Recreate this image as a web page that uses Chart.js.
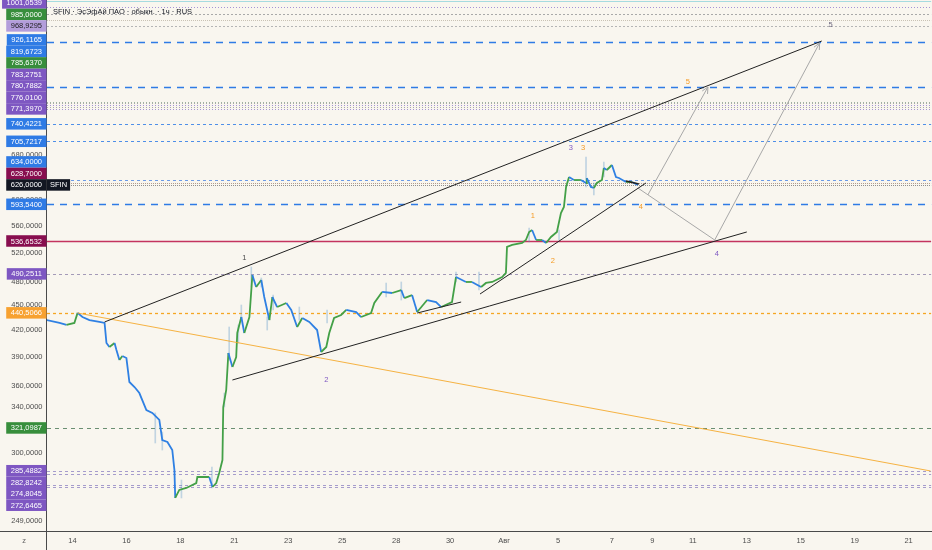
<!DOCTYPE html>
<html><head><meta charset="utf-8">
<script src="https://cdn.jsdelivr.net/npm/chart.js@4.4.1/dist/chart.umd.min.js"></script>
<style>html,body{margin:0;padding:0;background:#f9f6ef;}canvas{display:block;}</style>
</head><body>
<canvas id="c" width="932" height="550"></canvas>
<script>
const chartTitle = 'SFIN · ЭсЭфАй ПАО · обыкн. · 1ч · RUS';
const dayTickPos = [0,2,4,6,8,10,12,14,16,18,20,21.5,23,25,27,29,31];
const dayTickLabels = ['14','16','18','21','23','25','28','30','Авг','5','7','9','11','13','15','19','21'];
const priceTicks = [249,300,340,360,390,420,450,480,520,560,600,680];

// [trading-day position, close]
const priceBars = [
[-0.96,431.9],[-0.48,428.4],[-0.22,426.1],[0.07,428.4],[0.19,440.5],[0.37,435.5],[0.63,431.9],[1.0,429.6],[1.19,428.4],
[1.26,405.5],[1.37,401.1],[1.56,405.5],[1.63,397.8],[1.74,387.0],[1.85,391.3],[2.0,389.1],[2.11,364.3],[2.30,359.3],
[2.48,353.4],[2.74,337.3],[2.96,334.6],[3.22,328.2],[3.33,310.6],[3.52,308.9],[3.70,302.2],[3.78,286.0],[3.81,264.9],
[3.96,270.8],[4.22,272.3],[4.59,276.0],[4.63,280.6],[5.07,280.6],[5.19,273.0],[5.33,276.0],[5.44,283.7],[5.56,294.0],
[5.59,340.1],[5.70,356.4],[5.78,394.5],[5.93,379.6],[6.07,390.2],[6.11,416.8],[6.26,435.5],[6.37,416.8],[6.56,435.5],
[6.67,488.8],[6.81,472.9],[7.0,482.1],[7.11,460.1],[7.30,431.9],[7.41,460.1],[7.59,447.6],[7.93,452.6],[8.11,444.0],
[8.33,423.7],[8.52,434.3],[8.78,429.6],[9.07,420.2],[9.22,395.6],[9.41,401.1],[9.52,416.8],[9.70,434.3],[9.96,437.9],
[10.15,444.0],[10.52,441.5],[10.70,435.5],[11.07,440.3],[11.19,452.6],[11.48,466.5],[11.85,465.2],[12.19,469.0],
[12.30,458.8],[12.59,462.6],[12.78,441.5],[13.15,456.3],[13.48,453.8],[13.67,447.6],[14.07,453.8],[14.22,486.1],
[14.59,479.5],[14.81,479.5],[15.15,472.9],[15.33,478.2],[15.56,479.5],[15.93,486.1],[16.07,491.5],[16.11,527.9],
[16.30,530.8],[16.67,533.7],[16.81,538.1],[16.93,550.1],[17.04,553.1],[17.19,538.1],[17.41,538.1],[17.56,533.7],
[17.74,542.6],[17.96,550.1],[18.11,579.5],[18.22,589.2],[18.30,622.5],[18.41,639.8],[18.59,634.5],[18.85,634.5],
[19.04,629.3],[19.07,638.0],[19.22,622.5],[19.33,620.8],[19.44,629.3],[19.63,634.5],[19.70,655.8],[19.81,652.2],
[20.0,661.2],[20.15,639.8],[20.26,638.0],[20.52,631.1],[20.74,631.1],[20.96,626.0]
];
// candle wicks: [day, low, high]
const wickBars = [
[3.07,308.1,334.6],[3.33,302.2,317.5],[4.04,264.9,278.3],[5.17,272.3,288.4],[5.63,340.1,353.4],[5.81,387.0,423.7],
[6.15,405.5,426.1],[6.26,431.9,450.1],[6.63,472.9,499.6],[7.0,472.9,484.8],[7.22,420.2,435.5],[7.44,444.0,462.6],
[8.41,431.9,447.6],[9.44,428.4,444.0],[11.63,460.1,478.2],[12.19,456.3,479.5],[14.22,479.5,492.8],[15.07,469.0,492.8],
[16.93,535.2,556.2],[18.04,538.1,553.1],[19.04,622.5,675.9],[19.33,608.9,629.3],[19.70,639.8,666.7]
];

const upperChannel = [[1.19,429.6],[27.78,929.6]];
const lowerChannel = [[5.93,366.3],[25.0,550.1]];
const innerTrend = [[15.11,463.9],[21.26,629.3]];
const smallTrend = [[12.78,440.3],[14.41,453.8]];
const tailTrend = [[20.52,632.8],[21.0,627.6]];
const orangeTrend = [[0.19,440.3],[31.81,285.3]];
const projectionA = [[20.96,620.8],[23.81,538.1],[27.70,924.5]];
const projectionB = [[21.33,608.9],[23.56,819.3]];

const levelPrices = [1036.2,1020.7,1001.0539,985,968.9295,926.1165,819.6723,785.637,783.2751,780.7882,776.01,771.397,
  740.4221,705.7217,634,628.7,626,593.54,536.6532,490.2511,440.5066,321.0987,285.4882,282.8242,274.8045,272.6465];

const waveText = ['1','2','3','4','5','1','2','3','4','5'];
const waveDays = [6.37,9.41,18.48,23.89,28.11,17.07,17.81,18.93,21.07,22.81];
const wavePrices = [512.2,366.3,692.8,517.8,971.3,574.8,508.0,692.8,589.2,830.6];

// styles (kept apart from the data)
const PURPLE='#7e57c2', GREEN='#388e3c', BLUE='#2f7be5', MAROON='#880e4f', ORANGE='#f7a130';
const levelStyle = [
 {c:'#a6dbe0',d:[],w:1.2},
 {c:'#a593d6',d:[1,2],w:1},
 {c:'#a9a9a9',d:[2,2],w:1,box:PURPLE},
 {c:'#c9c2b4',d:[1,1],w:1,box:GREEN},
 {c:'#b5b5b5',d:[2,2],w:1,box:'#b39ddb',t:'#1f1f1f'},
 {c:BLUE,d:[7,6],w:1.6,box:BLUE},
 {c:BLUE,d:[7,6],w:1.6,box:BLUE},
 {c:'#9fb59f',d:[1,2],w:1,box:GREEN},
 {c:'#a9a9a9',d:[1,2],w:1,box:PURPLE},
 {c:'#a593d6',d:[1,2],w:1,box:PURPLE},
 {c:'#a9a9a9',d:[1,2],w:1,box:PURPLE},
 {c:'#a593d6',d:[1,2],w:1,box:PURPLE},
 {c:'#4f8fe8',d:[3,3],w:1,box:BLUE},
 {c:'#4f8fe8',d:[3,3],w:1,box:BLUE},
 {c:'#6d9be6',d:[3,3],w:1,box:BLUE},
 {c:'#b39c8c',d:[1,1],w:1,box:MAROON},
 {c:'#8f8f8f',d:[1,1],w:1,box:'#131722',tag:'SFIN'},
 {c:BLUE,d:[7,6],w:1.6,box:BLUE},
 {c:'#c4345f',d:[],w:1.3,box:MAROON},
 {c:'#a49ab8',d:[3,3],w:1,box:PURPLE},
 {c:'#f5a623',d:[3,3],w:1.3,box:ORANGE},
 {c:'#6b8f72',d:[4,4],w:1,box:GREEN},
 {c:'#a69ccc',d:[3,3],w:1,box:PURPLE},
 {c:'#a69ccc',d:[3,3],w:1,box:PURPLE},
 {c:'#a69ccc',d:[3,3],w:1,box:PURPLE},
 {c:'#a69ccc',d:[3,3],w:1,box:PURPLE}
];
const waveColor = ['#4a4a4a',PURPLE,PURPLE,PURPLE,'#6f6a80','#f59a23','#f59a23','#f59a23','#f59a23','#f59a23'];
const FONT = '"Liberation Sans", Arial, sans-serif';
const UP='#43a047', DOWN='#2f80e3';
// view geometry: pixel of the "14" tick, px per trading day; pixel of 249 and px per ln unit
const VIEW = {x0:72.5, dx:27, y249:520.5, ky:364};

const fmt = v => v.toFixed(4).replace('.', ',');
const pts = arr => arr.map(p => ({x:p[0], y:p[1]}));
function lineDs(arr, color, width){
  return {type:'line', data:pts(arr), borderColor:color, borderWidth:width, pointRadius:0, tension:0, fill:false, clip:false};
}

const overlay = {
  id:'overlay',
  beforeDraw(chart){
    const c=chart.ctx; c.save(); c.fillStyle='#f9f6ef'; c.fillRect(0,0,chart.width,chart.height); c.restore();
  },
  beforeDatasetsDraw(chart){
    const c=chart.ctx, a=chart.chartArea, ys=chart.scales.y;
    c.save();
    levelPrices.forEach((v,i)=>{
      const s=levelStyle[i], y=Math.round(ys.getPixelForValue(v))+0.5;
      c.strokeStyle=s.c; c.lineWidth=s.w; c.setLineDash(s.d);
      c.beginPath(); c.moveTo(a.left,y); c.lineTo(a.right,y); c.stroke();
    });
    c.restore();
  },
  afterDatasetsDraw(chart){
    const c=chart.ctx, xs=chart.scales.x, ys=chart.scales.y;
    c.save();
    [projectionA, projectionB].forEach(path=>{
      const p1=path[path.length-2], p2=path[path.length-1];
      const x1=xs.getPixelForValue(p1[0]), y1=ys.getPixelForValue(p1[1]);
      const x2=xs.getPixelForValue(p2[0]), y2=ys.getPixelForValue(p2[1]);
      const ang=Math.atan2(y2-y1,x2-x1), L=7;
      c.strokeStyle='#a8a8a8'; c.lineWidth=1; c.setLineDash([]);
      c.beginPath();
      c.moveTo(x2-L*Math.cos(ang-0.45), y2-L*Math.sin(ang-0.45)); c.lineTo(x2,y2);
      c.lineTo(x2-L*Math.cos(ang+0.45), y2-L*Math.sin(ang+0.45)); c.stroke();
    });
    c.font='7.5px '+FONT; c.textAlign='center'; c.textBaseline='middle';
    waveText.forEach((t,i)=>{
      c.fillStyle=waveColor[i];
      c.fillText(t, xs.getPixelForValue(waveDays[i]), ys.getPixelForValue(wavePrices[i]));
    });
    c.restore();
  },
  afterDraw(chart){
    const c=chart.ctx, a=chart.chartArea, ys=chart.scales.y;
    c.save();
    c.strokeStyle='#4a4a4a'; c.lineWidth=1; c.setLineDash([]);
    c.beginPath(); c.moveTo(0,a.bottom+0.5); c.lineTo(chart.width,a.bottom+0.5); c.stroke();
    c.beginPath(); c.moveTo(a.left-0.5,0); c.lineTo(a.left-0.5,chart.height); c.stroke();
    c.font='7.5px '+FONT; c.fillStyle='#131722'; c.textAlign='left'; c.textBaseline='middle';
    c.fillText(chartTitle, a.left+6, 11.5);
    c.fillStyle='#666'; c.textAlign='center'; c.fillText('z', 24, 541);
    const h=11.5, idx=[];
    levelPrices.forEach((v,i)=>{ if(levelStyle[i].box) idx.push(i); });
    const yy={};
    const anchorPos=idx.findIndex(i=>levelStyle[i].tag);
    yy[idx[anchorPos]]=ys.getPixelForValue(levelPrices[idx[anchorPos]]);
    for(let k=anchorPos-1;k>=0;k--){const i=idx[k]; yy[i]=Math.min(ys.getPixelForValue(levelPrices[i]), yy[idx[k+1]]-h);}
    for(let k=anchorPos+1;k<idx.length;k++){const i=idx[k]; yy[i]=Math.max(ys.getPixelForValue(levelPrices[i]), yy[idx[k-1]]+h);}
    c.font='7.5px '+FONT; c.textBaseline='middle';
    idx.forEach(i=>{
      const s=levelStyle[i], txt=fmt(levelPrices[i]), y=yy[i];
      const tw=c.measureText(txt).width, right=a.left-0.5, left=right-4.5-tw-4.5;
      c.fillStyle=s.box; c.fillRect(left, y-h/2, right-left, h);
      c.fillStyle=s.t||'#ffffff'; c.textAlign='right'; c.fillText(txt, right-4.5, y+0.5);
      if(s.tag){
        const w=c.measureText(s.tag).width+6;
        c.fillStyle=s.box; c.fillRect(a.left, y-h/2, w, h);
        c.fillStyle='#ffffff'; c.textAlign='left'; c.fillText(s.tag, a.left+3, y+0.5);
      }
    });
    c.restore();
  }
};

const chart = new Chart(document.getElementById('c'), {
  type:'line',
  data:{datasets:[
    lineDs(upperChannel,'#222222',1),
    lineDs(lowerChannel,'#222222',1),
    lineDs(innerTrend,'#222222',1),
    lineDs(smallTrend,'#222222',1),
    lineDs(tailTrend,'#222222',1.6),
    lineDs(projectionA,'#a8a8a8',1),
    lineDs(projectionB,'#a8a8a8',1),
    Object.assign(lineDs(orangeTrend,'rgba(245,166,35,0.85)',1),{clip:0}),
    {type:'line', data:pts(priceBars), borderWidth:1.8, pointRadius:0, tension:0, fill:false, borderColor:DOWN,
     segment:{borderColor:ctx=>ctx.p1.parsed.y>=ctx.p0.parsed.y?UP:DOWN}},
    {type:'bar', data:wickBars.map(w=>({x:w[0], y:[w[1],w[2]]})), barThickness:1, grouped:false,
     backgroundColor:'rgba(90,150,200,0.35)', borderWidth:0}
  ]},
  options:{
    responsive:false, animation:false, devicePixelRatio:1,
    layout:{padding:0},
    plugins:{legend:{display:false}, tooltip:{enabled:false}, title:{display:false}},
    scales:{
      x:{type:'linear', offset:false, min:-0.963, max:31.81,
        grid:{display:false, drawTicks:false}, border:{display:false},
        afterFit:s=>{s.height=19;},
        afterBuildTicks:s=>{s.ticks=dayTickPos.map(v=>({value:v}));},
        ticks:{autoSkip:false, maxRotation:0, padding:5, color:'#4d4d4d',
          font:{family:FONT,size:7.5},
          callback:v=>{const k=dayTickPos.indexOf(v); return k>=0?dayTickLabels[k]:'';}}},
      y:{type:'logarithmic', position:'left', min:241.9, max:1040.5,
        grid:{display:false, drawTicks:false}, border:{display:false},
        afterFit:s=>{s.width=47;},
        afterBuildTicks:s=>{s.ticks=priceTicks.map(v=>({value:v}));},
        ticks:{autoSkip:false, padding:4.5, color:'#4d4d4d', font:{family:FONT,size:7.5},
          callback:v=>fmt(v)}}
    }
  },
  plugins:[overlay]
});
// fit the axis ranges to the reference view geometry, given the actual plot area
const ca = chart.chartArea;
chart.options.scales.y.min = 249*Math.exp((VIEW.y249-ca.bottom)/VIEW.ky);
chart.options.scales.y.max = 249*Math.exp((VIEW.y249-ca.top)/VIEW.ky);
chart.options.scales.x.min = (ca.left-VIEW.x0)/VIEW.dx;
chart.options.scales.x.max = (ca.right-VIEW.x0)/VIEW.dx;
chart.update();
</script>
</body></html>
